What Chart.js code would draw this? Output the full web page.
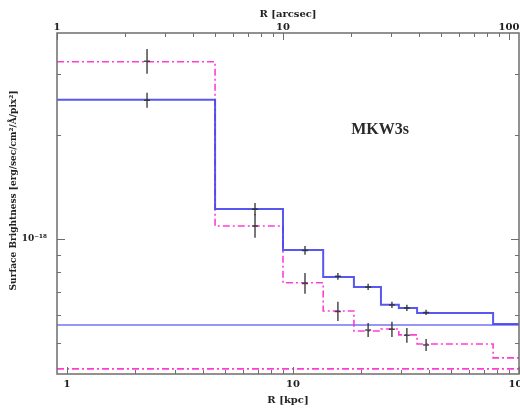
<!DOCTYPE html>
<html>
<head>
<meta charset="utf-8">
<script src="https://cdn.jsdelivr.net/npm/chart.js@4"></script>
<style>
    body { margin: 0; background: #fff; }
    #box { width: 520px; height: 413px; }
</style>
</head>
<body>
<div id="box"><canvas id="perfil" width="520" height="413"></canvas></div>
<script>
// surface brightness in units of 1e-18 erg/sec/cm^2/A/pix^2
const UNIT = 1e-18;

// bin edges of the model profiles (kpc)
const binEdges = [0.903, 4.52, 9.03, 13.6, 18.6, 24.5, 29.4, 35.4, 76.8, 100];
const modeloAzul = [2.53, 1.22, 0.929, 0.776, 0.726, 0.644, 0.631, 0.610, 0.567];
const modeloRosa = [3.26, 1.09, 0.746, 0.618, 0.541, 0.548, 0.527, 0.496, 0.452];
const fundoAzul = 0.563;
const fundoRosa = 0.420;

// measured points with their error bars
const raios = [2.26, 6.79, 11.3, 15.8, 21.5, 27.4, 31.9, 38.8];
const azulMin = [2.40, 1.17, 0.899, 0.761, 0.711, 0.631, 0.618, 0.602];
const azulMax = [2.65, 1.27, 0.954, 0.797, 0.741, 0.657, 0.644, 0.623];
const rosaMin = [3.01, 1.007, 0.693, 0.578, 0.520, 0.520, 0.500, 0.473];
const rosaMax = [3.55, 1.18, 0.797, 0.657, 0.571, 0.575, 0.552, 0.513];

const ticksKpc = [1, 10, 100];
const ticksArcsec = [1, 10, 100];
const ticksSB = [1];

const rotulo = "MKW3s";
const rotuloPos = { r: 24.3, sb: 2.07 };
const tituloY = "Surface Brightness [erg/sec/cm²/Å/pix²]";

const KPC_MIN = 0.903, KPC_MAX = 100;
const ARCSEC_MIN = 1, ARCSEC_MAX = 110.7;
const SB_MIN = 0.406, SB_MAX = 3.95;

const fonte = '"DejaVu Serif", "Liberation Serif", serif';
const fonteNome = '"Liberation Serif", serif';
const corEixo = "#6e6e6e";

function degraus(niveis) {
    const pts = niveis.map((v, i) => ({ x: binEdges[i], y: v * UNIT }));
    pts.push({ x: binEdges[binEdges.length - 1], y: niveis[niveis.length - 1] * UNIT });
    return pts;
}

function linhaFundo(v) {
    return [{ x: KPC_MIN, y: v * UNIT }, { x: KPC_MAX, y: v * UNIT }];
}

// 1..9 x 10^k inside [min, max]
function marcasLog(min, max) {
    const out = [];
    for (let k = Math.floor(Math.log10(min)); k <= Math.ceil(Math.log10(max)); k++) {
        for (let m = 1; m < 10; m++) {
            const v = m * Math.pow(10, k);
            if (v >= min * 0.999 && v <= max * 1.001) out.push({ v, major: m === 1 });
        }
    }
    return out;
}

const moldura = {
    id: "moldura",
    afterDatasetsDraw(chart) {
        const { ctx, chartArea: a, scales } = chart;
        ctx.save();

        // error bars
        ctx.strokeStyle = "rgba(45,45,45,0.85)";
        ctx.lineWidth = 1.5;
        raios.forEach((r, i) => {
            const px = scales.x.getPixelForValue(r);
            [[azulMin[i], azulMax[i]], [rosaMin[i], rosaMax[i]]].forEach(([lo, hi]) => {
                const y1 = scales.y.getPixelForValue(lo * UNIT);
                const y2 = scales.y.getPixelForValue(hi * UNIT);
                const ym = (y1 + y2) / 2;
                ctx.beginPath();
                ctx.moveTo(px, y1);
                ctx.lineTo(px, y2);
                ctx.moveTo(px - 3, ym);
                ctx.lineTo(px + 3, ym);
                ctx.stroke();
            });
        });

        // frame
        ctx.strokeStyle = corEixo;
        ctx.lineWidth = 1.5;
        ctx.strokeRect(a.left, a.top, a.right - a.left, a.bottom - a.top);

        // inward ticks
        ctx.lineWidth = 1;
        ctx.beginPath();
        marcasLog(KPC_MIN, KPC_MAX).forEach(t => {
            const px = Math.round(scales.x.getPixelForValue(t.v)) + 0.5;
            const len = t.major ? 7 : 4;
            ctx.moveTo(px, a.bottom);
            ctx.lineTo(px, a.bottom - len);
        });
        marcasLog(ARCSEC_MIN, ARCSEC_MAX).forEach(t => {
            const px = Math.round(scales.x2.getPixelForValue(t.v)) + 0.5;
            const len = t.major ? 7 : 4;
            ctx.moveTo(px, a.top);
            ctx.lineTo(px, a.top + len);
        });
        marcasLog(SB_MIN * UNIT, SB_MAX * UNIT).forEach(t => {
            const py = Math.round(scales.y.getPixelForValue(t.v)) + 0.5;
            const len = t.major ? 8 : 4;
            ctx.moveTo(a.left, py);
            ctx.lineTo(a.left + len, py);
            ctx.moveTo(a.right, py);
            ctx.lineTo(a.right - len, py);
        });
        ctx.stroke();

        // source name
        ctx.fillStyle = "#2a2a2a";
        ctx.font = "bold 16px " + fonteNome;
        ctx.textAlign = "center";
        ctx.textBaseline = "middle";
        ctx.fillText(rotulo, scales.x.getPixelForValue(rotuloPos.r), scales.y.getPixelForValue(rotuloPos.sb * UNIT));

        // vertical axis title, a little above the middle of the axis
        ctx.fillStyle = "#222";
        ctx.font = "bold 9px " + fonte;
        ctx.translate(14, (a.top + a.bottom) / 2 - 13);
        ctx.rotate(-Math.PI / 2);
        ctx.fillText(tituloY, 0, 0);
        ctx.restore();
    }
};

function semPadding(scale) {
    scale.paddingLeft = 0;
    scale.paddingRight = 0;
    scale.paddingTop = 0;
    scale.paddingBottom = 0;
}

const ctx = document.getElementById("perfil").getContext("2d");

new Chart(ctx, {
    type: "line",
    data: {
        datasets: [
            {
                data: degraus(modeloAzul),
                stepped: "before",
                borderColor: "rgba(70,70,240,0.9)",
                borderWidth: 2,
                pointRadius: 0
            },
            {
                data: degraus(modeloRosa),
                stepped: "before",
                borderColor: "rgba(255,40,210,0.9)",
                borderWidth: 1.6,
                borderDash: [7, 3, 2, 3],
                pointRadius: 0
            },
            {
                data: linhaFundo(fundoAzul),
                borderColor: "rgba(90,90,240,0.85)",
                borderWidth: 1.6,
                pointRadius: 0
            },
            {
                data: linhaFundo(fundoRosa),
                borderColor: "rgba(255,40,210,0.9)",
                borderWidth: 1.6,
                borderDash: [7, 3, 2, 3],
                pointRadius: 0
            }
        ]
    },
    options: {
        responsive: false,
        animation: false,
        devicePixelRatio: 1,
        layout: { padding: { left: 0, right: 1, top: 0, bottom: 0 } },
        plugins: {
            legend: { display: false },
            tooltip: { enabled: false }
        },
        scales: {
            x: {
                type: "logarithmic",
                position: "bottom",
                min: KPC_MIN,
                max: KPC_MAX,
                grid: { display: false, drawTicks: false },
                border: { display: false },
                afterBuildTicks: axis => { axis.ticks = ticksKpc.map(v => ({ value: v })); },
                afterFit: axis => { axis.height = 39; semPadding(axis); },
                ticks: {
                    autoSkip: false,
                    maxRotation: 0,
                    padding: 4,
                    color: "#222",
                    font: { family: fonte, size: 10, weight: "bold" },
                    callback: v => String(v)
                },
                title: {
                    display: true,
                    text: "R [kpc]",
                    color: "#222",
                    padding: { top: 0, bottom: 7 },
                    font: { family: fonte, size: 10, weight: "bold" }
                }
            },
            x2: {
                type: "logarithmic",
                position: "top",
                min: ARCSEC_MIN,
                max: ARCSEC_MAX,
                grid: { display: false, drawTicks: false },
                border: { display: false },
                afterBuildTicks: axis => { axis.ticks = ticksArcsec.map(v => ({ value: v })); },
                afterFit: axis => { axis.height = 33; semPadding(axis); },
                ticks: {
                    autoSkip: false,
                    maxRotation: 0,
                    padding: 0,
                    color: "#222",
                    font: { family: fonte, size: 10, weight: "bold" },
                    callback: v => String(v)
                },
                title: {
                    display: true,
                    text: "R [arcsec]",
                    color: "#222",
                    padding: { top: 8, bottom: 0 },
                    font: { family: fonte, size: 10, weight: "bold" }
                }
            },
            y: {
                type: "logarithmic",
                min: SB_MIN * UNIT,
                max: SB_MAX * UNIT,
                grid: { display: false, drawTicks: false },
                border: { display: false },
                afterBuildTicks: axis => { axis.ticks = ticksSB.map(v => ({ value: v * UNIT })); },
                afterFit: axis => { axis.width = 57; semPadding(axis); },
                ticks: {
                    autoSkip: false,
                    padding: 10,
                    color: "#222",
                    font: { family: fonte, size: 9, weight: "bold" },
                    callback: () => "10⁻¹⁸"
                },
                title: { display: false }
            }
        }
    },
    plugins: [moldura]
});
</script>
</body>
</html>
